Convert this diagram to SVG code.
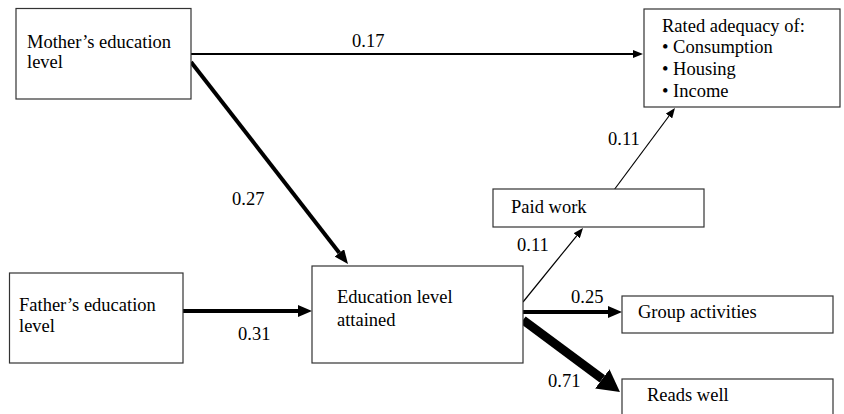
<svg xmlns="http://www.w3.org/2000/svg" width="844" height="414" viewBox="0 0 844 414">
<style>
.box{fill:#fff;stroke:#333;stroke-width:1.2}
.t{font-family:"Liberation Serif","Times New Roman",serif;font-size:18.5px;fill:#000}
.c{stroke:#000;fill:none}
</style>
<defs>
<marker id="hs" markerUnits="userSpaceOnUse" markerWidth="10" markerHeight="8" refX="0" refY="4" orient="auto"><path d="M0,0 L10,4 L0,8 z" fill="#000"/></marker>
<marker id="hm" markerUnits="userSpaceOnUse" markerWidth="14" markerHeight="12" refX="0" refY="6" orient="auto"><path d="M0,0 L14,6 L0,12 z" fill="#000"/></marker>
<marker id="hl" markerUnits="userSpaceOnUse" markerWidth="22" markerHeight="24" refX="0" refY="12" orient="auto"><path d="M0,0 L22,12 L0,24 z" fill="#000"/></marker>
</defs>
<rect width="844" height="414" fill="#fff"/>
<g id="connectors">
<line class="c" x1="191" y1="54" x2="633" y2="54" stroke-width="2" marker-end="url(#hs)"/>
<line class="c" x1="191" y1="62" x2="339.4" y2="252.9" stroke-width="4" marker-end="url(#hm)"/>
<line class="c" x1="183" y1="311" x2="298" y2="311" stroke-width="4" marker-end="url(#hm)"/>
<line class="c" x1="523" y1="302" x2="576.7" y2="235.8" stroke-width="1.2" marker-end="url(#hs)"/>
<line class="c" x1="614" y1="190" x2="669" y2="116" stroke-width="1.2" marker-end="url(#hs)"/>
<line class="c" x1="523" y1="312" x2="608" y2="312" stroke-width="4" marker-end="url(#hm)"/>
<line class="c" x1="523" y1="320" x2="602.3" y2="378.9" stroke-width="9" marker-end="url(#hl)"/>
<text class="t" x="352" y="47">0.17</text>
<text class="t" x="232" y="205">0.27</text>
<text class="t" x="238" y="340">0.31</text>
<text class="t" x="517" y="251">0.11</text>
<text class="t" x="608" y="145">0.11</text>
<text class="t" x="571" y="303">0.25</text>
<text class="t" x="548" y="387">0.71</text>
</g>
<g id="mother">
<rect class="box" x="16" y="8.5" width="175" height="90.5"/>
<text class="t" x="27" y="48">Mother’s education</text>
<text class="t" x="27" y="68">level</text>
</g>
<g id="rated">
<rect class="box" x="644" y="9" width="196" height="98"/>
<text class="t" x="662" y="32">Rated adequacy of:</text>
<text class="t" x="662" y="53">• Consumption</text>
<text class="t" x="662" y="75">• Housing</text>
<text class="t" x="662" y="97">• Income</text>
</g>
<g id="father">
<rect class="box" x="9.5" y="273" width="173.5" height="90"/>
<text class="t" x="19" y="311">Father’s education</text>
<text class="t" x="19" y="332">level</text>
</g>
<g id="education">
<rect class="box" x="312" y="266" width="211" height="97"/>
<text class="t" x="337" y="303">Education level</text>
<text class="t" x="337" y="326">attained</text>
</g>
<g id="paidwork">
<rect class="box" x="493" y="189" width="211" height="38"/>
<text class="t" x="511" y="213">Paid work</text>
</g>
<g id="group">
<rect class="box" x="622" y="296" width="211" height="37"/>
<text class="t" x="638" y="318">Group activities</text>
</g>
<g id="reads">
<rect class="box" x="622" y="379" width="211" height="40"/>
<text class="t" x="647" y="401">Reads well</text>
</g>
</svg>
